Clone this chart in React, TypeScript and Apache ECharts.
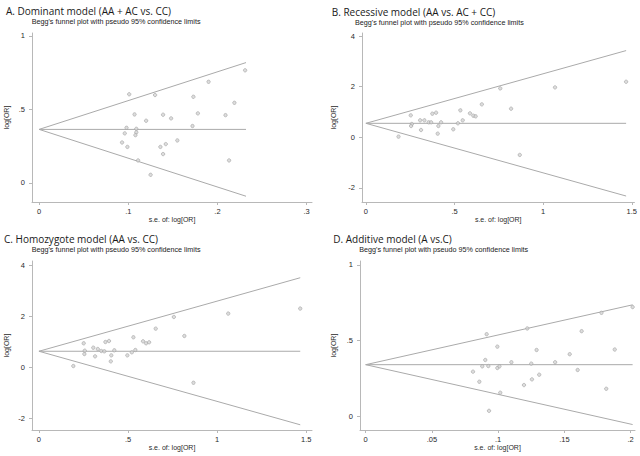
import React, { useEffect, useRef } from "react";
import * as echarts from "echarts";

// ---------- data ----------
const panelTitles = [
  "A. Dominant model (AA + AC vs. CC)",
  "B. Recessive model (AA vs. AC + CC)",
  "C. Homozygote model (AA vs. CC)",
  "D. Additive model (A vs.C)",
];
const subTitle = "Begg's funnel plot with pseudo 95% confidence limits";
const xAxisTitle = "s.e. of: log[OR]";
const yAxisTitle = "log[OR]";

// Panel A
const seA = [0.101, 0.130, 0.190, 0.231, 0.173, 0.219, 0.107, 0.139, 0.120, 0.148, 0.178, 0.209, 0.098, 0.109, 0.172, 0.096, 0.109, 0.108, 0.093, 0.099, 0.136, 0.142, 0.155, 0.139, 0.111, 0.213, 0.125];
const lorA = [0.603, 0.598, 0.688, 0.766, 0.586, 0.545, 0.466, 0.464, 0.423, 0.439, 0.473, 0.461, 0.375, 0.368, 0.387, 0.337, 0.344, 0.325, 0.275, 0.245, 0.245, 0.264, 0.289, 0.196, 0.153, 0.153, 0.055];
const pooledA = 0.364;
const maxSeA = 0.232;

// Panel B
const seB = [1.468, 1.067, 0.758, 0.654, 0.819, 0.533, 0.587, 0.606, 0.619, 0.396, 0.375, 0.253, 0.306, 0.330, 0.354, 0.368, 0.424, 0.546, 0.519, 0.259, 0.255, 0.409, 0.311, 0.493, 0.405, 0.184, 0.868];
const lorB = [2.197, 1.974, 1.934, 1.303, 1.132, 1.066, 0.947, 0.855, 0.829, 0.974, 0.934, 0.868, 0.671, 0.671, 0.592, 0.592, 0.592, 0.671, 0.553, 0.526, 0.447, 0.447, 0.289, 0.316, 0.145, 0.026, -0.697];
const pooledB = 0.553;
const maxSeB = 1.468;

// Panel C
const seC = [1.466, 1.062, 0.757, 0.655, 0.816, 0.530, 0.584, 0.601, 0.618, 0.373, 0.393, 0.251, 0.305, 0.330, 0.350, 0.367, 0.423, 0.257, 0.255, 0.315, 0.406, 0.496, 0.521, 0.541, 0.403, 0.193, 0.867];
const lorC = [2.298, 2.102, 1.971, 1.514, 1.227, 1.175, 1.018, 0.940, 0.979, 0.992, 1.031, 0.940, 0.770, 0.718, 0.640, 0.627, 0.666, 0.653, 0.522, 0.431, 0.470, 0.470, 0.587, 0.679, 0.235, 0.052, -0.601];
const pooledC = 0.63;
const maxSeC = 1.466;

// Panel D
const seD = [0.0913, 0.122, 0.163, 0.178, 0.2015, 0.188, 0.0994, 0.129, 0.154, 0.0903, 0.088, 0.0926, 0.0994, 0.101, 0.110, 0.125, 0.143, 0.081, 0.131, 0.160, 0.1255, 0.1195, 0.0858, 0.1016, 0.1816, 0.0931];
const lorD = [0.543, 0.581, 0.563, 0.684, 0.722, 0.442, 0.461, 0.439, 0.411, 0.373, 0.331, 0.333, 0.320, 0.331, 0.358, 0.349, 0.358, 0.296, 0.276, 0.307, 0.245, 0.2075, 0.2296, 0.157, 0.183, 0.0375];
const pooledD = 0.342;
const maxSeD = 0.2015;

// Tick labels
const xTicksA = [0, 0.1, 0.2, 0.3];
const yTicksA = [0, 0.5, 1];
const xTicksB = [0, 0.5, 1, 1.5];
const yTicksB = [-2, 0, 2, 4];
const xTicksC = [0, 0.5, 1, 1.5];
const yTicksC = [-2, 0, 2, 4];
const xTicksD = [0, 0.05, 0.1, 0.15, 0.2];
const yTicksD = [0, 0.5, 1];

// ---------- layout ----------
const panels = [
  { se: seA, lor: lorA, pooled: pooledA, maxSe: maxSeA, xt: xTicksA, yt: yTicksA,
    grid: { left: 32, top: 33, width: 280, height: 169 }, xr: [-0.008, 0.306], yr: [-0.13, 1.02],
    tpos: [6, 4.5], spos: [31.7, 17.2], yGap: 22 },
  { se: seB, lor: lorB, pooled: pooledB, maxSe: maxSeB, xt: xTicksB, yt: yTicksB,
    grid: { left: 362, top: 33, width: 273, height: 169 }, xr: [-0.022, 1.515], yr: [-2.56, 4.126],
    tpos: [331.7, 5.5], spos: [355, 17.8], yGap: 25 },
  { se: seC, lor: lorC, pooled: pooledC, maxSe: maxSeC, xt: xTicksC, yt: yTicksC,
    grid: { left: 32, top: 261, width: 280, height: 169 }, xr: [-0.039, 1.532], yr: [-2.447, 4.157],
    tpos: [4, 232.5], spos: [31.7, 245.2], yGap: 22 },
  { se: seD, lor: lorD, pooled: pooledD, maxSe: maxSeD, xt: xTicksD, yt: yTicksD,
    grid: { left: 360, top: 261, width: 275, height: 169 }, xr: [-0.0043, 0.2033], yr: [-0.089, 1.026],
    tpos: [333.3, 232.5], spos: [359.3, 245.2], yGap: 23 },
];

const AXIS_COLOR = "#b8b8b8";
const LINE_COLOR = "#aaaaaa";
const TEXT_COLOR = "#2a2a2a";
const SANS = "'Liberation Sans', Arial, sans-serif";

const fmt = (v: number) => {
  const s = String(Math.round(v * 1000) / 1000);
  return s.replace(/^0\./, ".").replace(/^-0\./, "-.");
};

export default function App() {
  const ref = useRef<HTMLDivElement>(null);
  useEffect(() => {
    if (!ref.current) return;
    const chart = echarts.init(ref.current, undefined, { renderer: "svg" });

    const titles: any[] = [];
    const grids: any[] = [];
    const xAxes: any[] = [];
    const yAxes: any[] = [];
    const series: any[] = [];

    panels.forEach((p, i) => {
      titles.push({
        text: panelTitles[i],
        left: p.tpos[0],
        top: p.tpos[1],
        padding: 0,
        textStyle: { fontFamily: "'Open Sans', sans-serif", fontSize: 10, fontWeight: "normal", color: "#1a1a1a", lineHeight: 12 },
      });
      titles.push({
        text: subTitle,
        left: p.spos[0],
        top: p.spos[1],
        padding: 0,
        textStyle: { fontFamily: SANS, fontSize: 7.2, fontWeight: "normal", color: "#1a1a1a", lineHeight: 9 },
      });
      grids.push({ ...p.grid, containLabel: false });
      xAxes.push({
        gridIndex: i,
        type: "value",
        min: p.xr[0],
        max: p.xr[1],
        name: xAxisTitle,
        nameLocation: "middle",
        nameGap: 13,
        nameTextStyle: { fontFamily: SANS, fontSize: 7, color: TEXT_COLOR },
        axisLine: { show: true, onZero: false, lineStyle: { color: AXIS_COLOR, width: 1 } },
        axisTick: { show: true, length: 3, customValues: p.xt, lineStyle: { color: AXIS_COLOR } },
        axisLabel: { customValues: p.xt, formatter: fmt, fontFamily: SANS, fontSize: 7.5, color: TEXT_COLOR, margin: 5 },
        splitLine: { show: false },
      });
      yAxes.push({
        gridIndex: i,
        type: "value",
        min: p.yr[0],
        max: p.yr[1],
        name: yAxisTitle,
        nameLocation: "middle",
        nameRotate: 90,
        nameGap: p.yGap,
        nameTextStyle: { fontFamily: SANS, fontSize: 7, color: TEXT_COLOR },
        axisLine: { show: true, onZero: false, lineStyle: { color: AXIS_COLOR, width: 1 } },
        axisTick: { show: true, length: 3, customValues: p.yt, lineStyle: { color: AXIS_COLOR } },
        axisLabel: { customValues: p.yt, formatter: fmt, fontFamily: SANS, fontSize: 7.5, color: TEXT_COLOR, margin: 7 },
        splitLine: { show: false },
      });
      const lineStyle = { color: LINE_COLOR, width: 1 };
      const upper = p.pooled + 1.96 * p.maxSe;
      const lower = p.pooled - 1.96 * p.maxSe;
      [
        [[0, p.pooled], [p.maxSe, p.pooled]],
        [[0, p.pooled], [p.maxSe, upper]],
        [[0, p.pooled], [p.maxSe, lower]],
      ].forEach((d) => {
        series.push({
          type: "line",
          xAxisIndex: i,
          yAxisIndex: i,
          data: d,
          symbol: "none",
          lineStyle,
          silent: true,
          z: 1,
        });
      });
      series.push({
        type: "scatter",
        xAxisIndex: i,
        yAxisIndex: i,
        data: p.se.map((s, k) => [s, p.lor[k]]),
        symbol: "circle",
        symbolSize: 3.4,
        itemStyle: { color: "#d4d4d4", borderColor: "#9a9a9a", borderWidth: 0.7 },
        silent: true,
        z: 2,
      });
    });

    chart.setOption({
      animation: false,
      backgroundColor: "#ffffff",
      title: titles,
      grid: grids,
      xAxis: xAxes,
      yAxis: yAxes,
      series,
    });
    return () => chart.dispose();
  }, []);

  return (
    <div
      ref={ref}
      style={{ position: "fixed", left: 0, top: 0, width: 640, height: 456, background: "#fff" }}
    />
  );
}
